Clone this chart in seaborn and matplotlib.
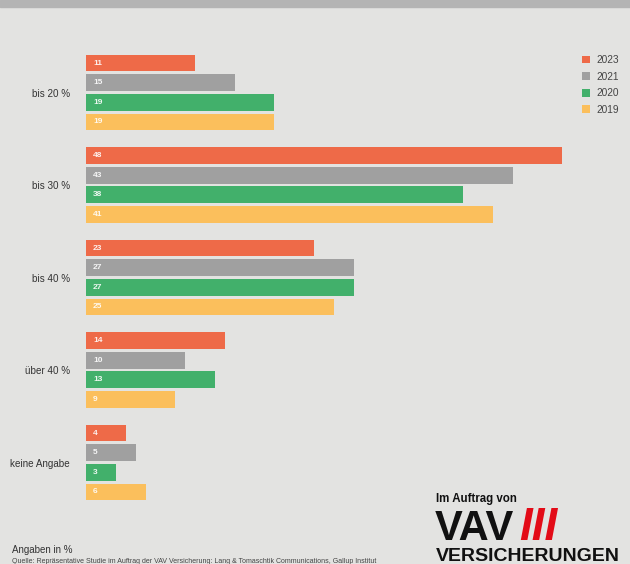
import matplotlib
matplotlib.use("Agg")
import matplotlib.pyplot as plt
import pandas as pd
import seaborn as sns

# values (percent)
categories = ["bis 20 %", "bis 30 %", "bis 40 %", "über 40 %", "keine Angabe"]
years = ["2023", "2021", "2020", "2019"]
values_2023 = [11, 48, 23, 14, 4]
values_2021 = [15, 43, 27, 10, 5]
values_2020 = [19, 38, 27, 13, 3]
values_2019 = [19, 41, 25, 9, 6]
colors = ["#ee6a48", "#a0a0a0", "#42b06b", "#fbbf5c"]

rows = []
for year, vals in zip(years, [values_2023, values_2021, values_2020, values_2019]):
    for cat, v in zip(categories, vals):
        rows.append({"Kategorie": cat, "Jahr": year, "Wert": v})
df = pd.DataFrame(rows)

sns.set_theme(style="white")
bg = "#e3e3e1"
plt.rcParams["font.family"] = ["Liberation Sans", "DejaVu Sans"]

fig = plt.figure(figsize=(6.3, 5.64), dpi=100, facecolor=bg)
ax = fig.add_axes([86 / 630, 1 - 510 / 564, 496 / 630, 470 / 564])
ax.set_facecolor(bg)

sns.barplot(data=df, y="Kategorie", x="Wert", hue="Jahr", hue_order=years,
            palette=colors, orient="h", width=0.85, gap=0.14, ax=ax,
            saturation=1, linewidth=0)

ax.set_xlim(0, 50)
ax.set_ylim(4.5135, -0.5676)
ax.set_xlabel("")
ax.set_ylabel("")
ax.set_xticks([])
ax.tick_params(axis="y", length=0, pad=11.5, labelsize=7.1, labelcolor="#333333")
sns.despine(ax=ax, left=True, bottom=True, top=True, right=True)

# value labels inside the bars, left aligned
for container in ax.containers:
    for bar, val in zip(container, container.datavalues):
        ax.text(0.7, bar.get_y() + bar.get_height() / 2, f"{val:.0f}",
                ha="left", va="center", color="white", fontsize=6,
                fontweight="bold", alpha=0.9)

sns.move_legend(ax, "upper left", bbox_to_anchor=(578 / 630, 1 - 51 / 564),
                bbox_transform=fig.transFigure, frameon=False, title=None,
                fontsize=7.3, handlelength=0.8, handleheight=0.8,
                handletextpad=0.6, labelspacing=0.65, borderaxespad=0)
for t in ax.get_legend().get_texts():
    t.set_color("#444444")

# top grey band
fig.patches.append(plt.Rectangle((0, 1 - 7 / 564), 1, 7 / 564,
                                 transform=fig.transFigure, color="#b4b4b4"))

# footnotes
fig.text(12 / 630, 1 - 550 / 564, "Angaben in %", fontsize=7, color="#333333",
         va="center", ha="left")
fig.text(12 / 630, 1 - 558 / 564,
         "Quelle: Repräsentative Studie im Auftrag der VAV Versicherung: "
         "Lang & Tomaschtik Communications, Gallup Institut",
         fontsize=5, color="#444444", va="top", ha="left")

# logo text
fig.text(436 / 630, 1 - 502 / 564, "Im Auftrag von", fontsize=8.3,
         fontweight="bold", color="#111111", va="baseline", ha="left")
fig.text(435 / 630, 1 - 540 / 564, "VAV", fontsize=30, fontweight="bold",
         color="#111111", va="baseline", ha="left")
fig.text(519 / 630, 1 - 540 / 564, "III", fontsize=33, fontweight="bold",
         fontstyle="italic", color="#e30b17", va="baseline", ha="left")
fig.text(436 / 630, 1 - 561 / 564, "VERSICHERUNGEN", fontsize=14,
         fontweight="bold", color="#111111", va="baseline", ha="left")

fig.savefig("out.png", dpi=100, facecolor=bg)
